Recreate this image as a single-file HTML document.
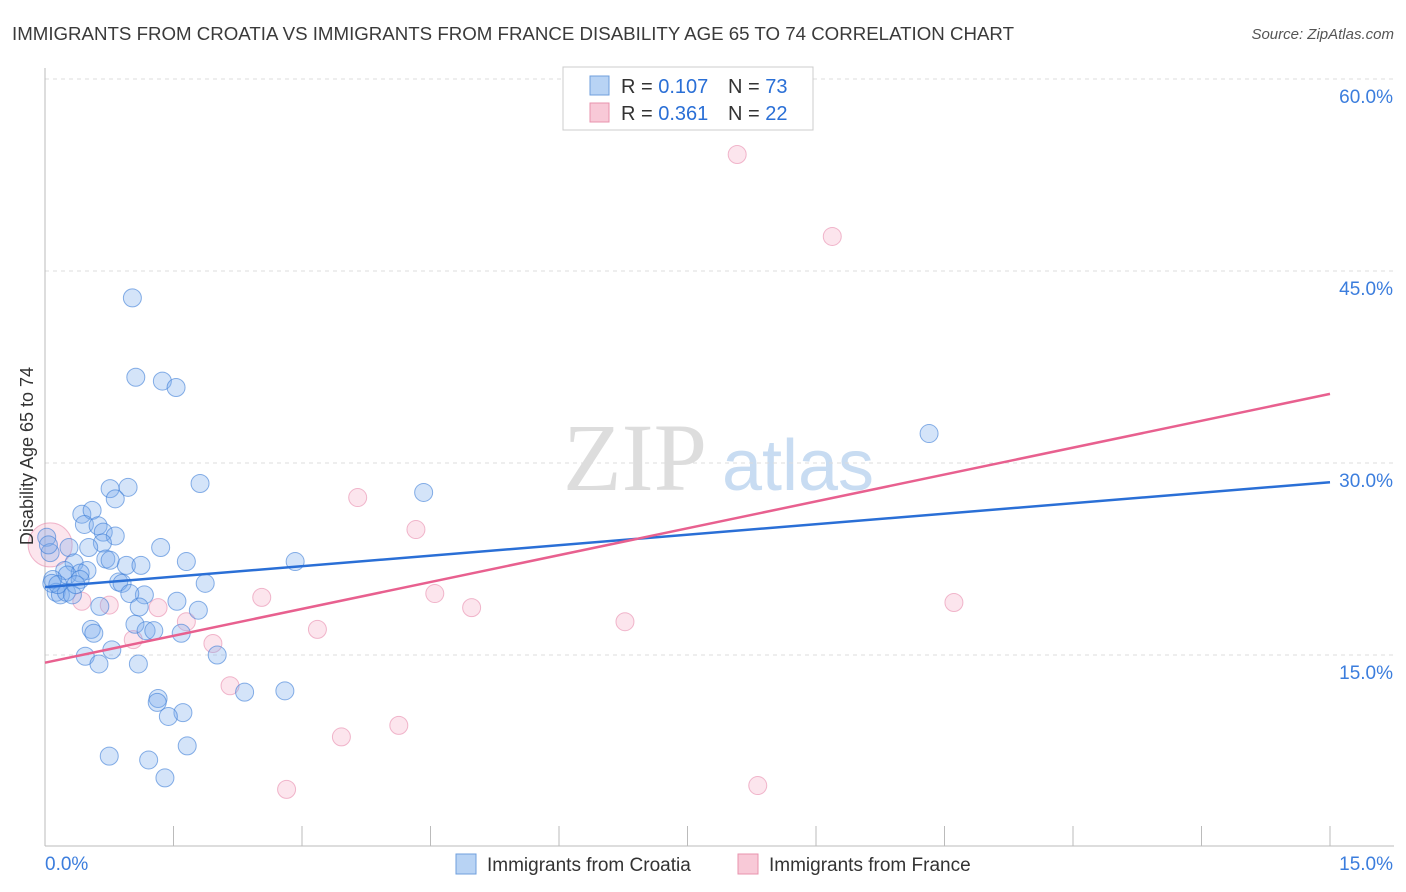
<!DOCTYPE html>
<html><head><meta charset="utf-8"><style>
body{margin:0;background:#fff;font-family:"Liberation Sans",sans-serif;}
svg{display:block}
</style></head><body>
<svg id="chart" width="1406" height="892" xmlns="http://www.w3.org/2000/svg">
<text x="12" y="40" font-size="18.7" fill="#3a3a3a">IMMIGRANTS FROM CROATIA VS IMMIGRANTS FROM FRANCE DISABILITY AGE 65 TO 74 CORRELATION CHART</text>
<text x="1394" y="39" font-size="15" fill="#555" font-style="italic" text-anchor="end">Source: ZipAtlas.com</text>
<g>
<text x="635" y="490" font-size="96" fill="#ddd" font-family="Liberation Serif,serif" text-anchor="middle">ZIP</text>
<text x="798" y="490" font-size="72" fill="#c8dcf2" text-anchor="middle">atlas</text>
</g>
<g id="grid"></g>
<g id="axes"></g>
<g id="marks"></g>
<text transform="translate(33,456) rotate(-90)" font-size="18" fill="#333" text-anchor="middle">Disability Age 65 to 74</text>
<g>
<rect x="563" y="67" width="250" height="63" fill="#fff" stroke="#ccc"/>
<rect x="590" y="76" width="19" height="19" fill="#b8d3f4" stroke="#6f9fdd"/>
<text x="621" y="93" font-size="20" fill="#333">R = <tspan fill="#2a6fd6">0.107</tspan></text>
<text x="728" y="93" font-size="20" fill="#333">N = <tspan fill="#2a6fd6">73</tspan></text>
<rect x="590" y="103" width="19" height="19" fill="#f8c9d7" stroke="#e893ae"/>
<text x="621" y="120" font-size="20" fill="#333">R = <tspan fill="#2a6fd6">0.361</tspan></text>
<text x="728" y="120" font-size="20" fill="#333">N = <tspan fill="#2a6fd6">22</tspan></text>
</g>
<g>
<rect x="456" y="854" width="20" height="20" fill="#b8d3f4" stroke="#6f9fdd"/>
<text x="487" y="871" font-size="19" fill="#333">Immigrants from Croatia</text>
<rect x="738" y="854" width="20" height="20" fill="#f8c9d7" stroke="#e893ae"/>
<text x="769" y="871" font-size="19" fill="#333">Immigrants from France</text>
</g>
</svg>
<script>
const xTicks=[0,1.5,3,4.5,6,7.5,9,10.5,12,13.5,15];
const yTicks=[15,30,45,60];
const yTickLabels=["15.0%","30.0%","45.0%","60.0%"];
const croatiaX=[1.02,1.06,1.37,1.53,1.81,0.76,0.97,0.82,0.43,0.55,0.46,0.62,0.68,0.82,0.67,0.51,0.28,1.35,1.65,2.92,0.71,0.34,0.23,0.49,0.95,1.12,0.41,0.26,0.86,0.90,1.87,0.09,0.13,0.18,0.25,0.41,1.16,0.99,0.64,1.10,1.54,1.79,0.54,1.05,0.57,1.18,1.27,1.59,0.78,0.47,0.63,1.09,2.01,1.32,1.31,1.61,1.44,2.33,2.80,0.75,1.21,1.66,1.40,4.42,10.32,0.02,0.06,0.08,0.04,0.15,0.32,0.36,0.76];
const croatiaY=[42.9,36.7,36.4,35.9,28.4,28.0,28.1,27.2,26.0,26.3,25.2,25.1,24.6,24.3,23.75,23.4,23.4,23.4,22.3,22.3,22.5,22.2,21.6,21.6,22.0,22.0,21.4,21.25,20.7,20.6,20.6,20.9,19.9,19.7,19.9,20.9,19.7,19.8,18.8,18.75,19.2,18.5,17.0,17.4,16.7,16.9,16.9,16.7,15.4,14.9,14.3,14.3,15.0,11.6,11.3,10.5,10.2,12.1,12.2,7.1,6.8,7.9,5.4,27.7,32.3,24.2,23.0,20.6,23.6,20.5,19.7,20.5,22.4];
const franceX=[8.08,9.19,3.65,4.33,4.55,4.98,6.77,10.61,2.53,3.18,1.96,1.65,2.16,3.46,4.13,2.82,8.32,1.32,0.75,0.43,1.03,0.06];
const franceY=[54.1,47.7,27.3,24.8,19.8,18.7,17.6,19.1,19.5,17.0,15.9,17.6,12.6,8.6,9.5,4.5,4.8,18.7,18.9,19.2,16.2,23.6];
const croatiaTrend=[20.3,28.5];
const franceTrend=[14.4,35.4];
const NS="http://www.w3.org/2000/svg";
const X=v=>45+v/15*1285;
const Y=v=>847-v*12.8;
function mk(tag,attrs,parent){const e=document.createElementNS(NS,tag);for(const k in attrs)e.setAttribute(k,attrs[k]);parent.appendChild(e);return e;}
const grid=document.getElementById('grid'),axes=document.getElementById('axes'),marks=document.getElementById('marks');
yTicks.forEach((t,i)=>{
 const l=mk('line',{x1:45,x2:1394,y1:Y(t),y2:Y(t),stroke:'#ddd','stroke-dasharray':'4,4'},grid);
 
 
 const tx=mk('text',{x:1393,y:Y(t)+24,'font-size':19,fill:'#3b7ddd','text-anchor':'end'},axes);
 tx.textContent=yTickLabels[i];
 
 
});
const ax=mk('line',{x1:45,x2:1394,y1:846,y2:846,stroke:'#bbb'},axes);


const ay=mk('line',{x1:45,x2:45,y1:68,y2:846,stroke:'#bbb'},axes);


xTicks.forEach(t=>{
 const l=mk('line',{x1:X(t),x2:X(t),y1:826,y2:846,stroke:'#bbb'},axes);
 
 
});
const x0=mk('text',{x:45,y:870,'font-size':19,fill:'#3b7ddd'},axes);x0.textContent='0.0%';


const x1=mk('text',{x:1393,y:870,'font-size':19,fill:'#3b7ddd','text-anchor':'end'},axes);x1.textContent='15.0%';


franceX.forEach((v,i)=>{
 const r=i===franceX.length-1?22:9;
 const c=mk('circle',{cx:X(v),cy:Y(franceY[i]),r:r,fill:'rgba(244,170,195,0.3)',stroke:'rgba(230,130,165,0.55)','stroke-width':1},marks);
 
 
});
croatiaX.forEach((v,i)=>{
 const c=mk('circle',{cx:X(v),cy:Y(croatiaY[i]),r:9,fill:'rgba(120,170,235,0.32)',stroke:'rgba(60,125,215,0.6)','stroke-width':1},marks);
 
 
});
const bl=mk('line',{x1:X(0),y1:Y(croatiaTrend[0]),x2:X(15),y2:Y(croatiaTrend[1]),stroke:'#2a6fd6','stroke-width':2.5},marks);


const pl=mk('line',{x1:X(0),y1:Y(franceTrend[0]),x2:X(15),y2:Y(franceTrend[1]),stroke:'#e8608f','stroke-width':2.5},marks);


</script>
</body></html>
